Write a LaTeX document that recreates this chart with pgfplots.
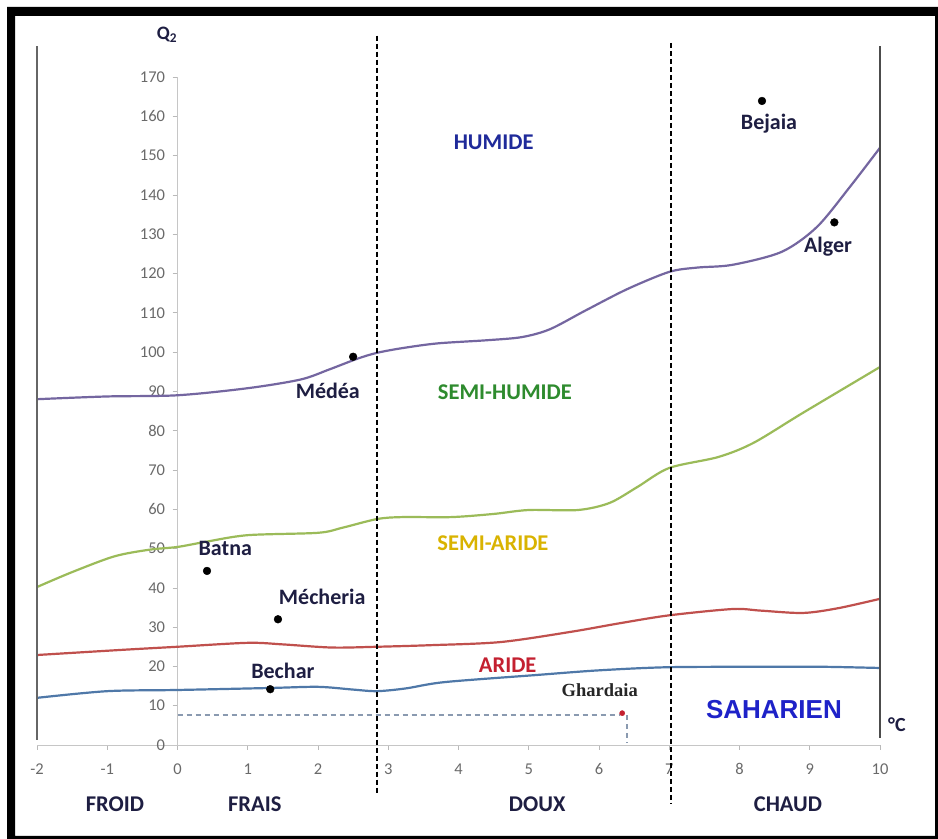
\documentclass[border=0pt]{standalone}
\usepackage{pgfplots}
\pgfplotsset{compat=1.18}
\usepackage{fontspec}
\setmainfont{Carlito}
\newfontfamily\arialf{Liberation Sans}
\newfontfamily\timesf{Liberation Serif}
\definecolor{navyt}{HTML}{1E1E42}
\definecolor{tickgray}{HTML}{6A6A6A}
\definecolor{purplec}{HTML}{7466A0}
\definecolor{greenc}{HTML}{9BBB59}
\definecolor{redc}{HTML}{C0504D}
\definecolor{bluec}{HTML}{4F78A8}
\definecolor{humide}{HTML}{1F2A9A}
\definecolor{shumide}{HTML}{2E8B2E}
\definecolor{saride}{HTML}{D9B300}
\definecolor{aride}{HTML}{C42030}
\definecolor{saharien}{HTML}{1E22C8}
\definecolor{dashc}{HTML}{8A9AB0}
\begin{document}
\begin{tikzpicture}[x=1bp,y=1bp]
\useasboundingbox (0,0) rectangle (938,839);
\fill[white] (0,0) rectangle (938,839);
\fill[black, even odd rule] (7,0) rectangle (938,832) (15,3) rectangle (935,823);
\begin{axis}[
  at={(37bp,94bp)}, anchor=south west,
  scale only axis, width=843bp, height=668bp,
  xmin=-2, xmax=10, ymin=0, ymax=170,
  axis lines=middle,
  axis line style={-, color=gray!45, line width=0.8bp},
  xtick={-2,-1,...,10}, ytick={0,10,...,170},
  hide obscured x ticks=false, hide obscured y ticks=false,
  tick style={color=gray!55, line width=0.6bp},
  major tick length=5bp, tick align=outside,
  /pgf/number format/assume math mode=true,
  ticklabel style={font=\fontsize{16.5bp}{18bp}\selectfont, text=tickgray},
  xticklabel style={anchor=north, yshift=-10bp},
  yticklabel style={anchor=east, xshift=-4bp},
  clip=false,
]
% boundary curves
\addplot[smooth, color=purplec, line width=2.2bp] coordinates {
(-2,88) (-1,88.7) (0,89) (1,90.8) (1.75,93) (2.15,95.5) (2.56,98.3) (2.84,99.8)
(3.2,101) (3.7,102.2) (4.4,103) (4.9,103.8) (5.3,105.8) (5.8,110.5) (6.4,116)
(7.0,120.4) (7.4,121.5) (7.9,122.2) (8.6,125.5) (9.1,131.8) (9.57,142) (10,152)};
\addplot[smooth, color=greenc, line width=2.2bp] coordinates {
(-2,40.2) (-1.5,44) (-0.9,48) (-0.4,49.7) (0,50.4) (0.4,51.7) (1.0,53.4)
(2.0,54) (2.35,55.3) (2.84,57.5) (3.2,58) (3.9,58) (4.5,58.8) (5.0,59.8)
(5.7,59.8) (6.15,61.6) (6.55,65.7) (7.0,70.5) (7.7,73.3) (8.2,76.9) (8.9,84.5) (10,96.2)};
\addplot[smooth, color=redc, line width=2.2bp] coordinates {
(-2,22.9) (-0.8,24.2) (0,25) (1.0,26) (1.5,25.6) (2.2,24.8) (2.84,25)
(3.6,25.4) (4.6,26.2) (5.6,28.8) (6.3,31) (7.0,33) (7.9,34.6) (8.3,34.2)
(8.9,33.6) (9.4,34.8) (10,37.2)};
\addplot[smooth, color=bluec, line width=2.2bp] coordinates {
(-2,12) (-1,13.7) (0,14) (1.3,14.5) (2.0,14.8) (2.5,14.1) (2.84,13.7) (3.25,14.4)
(3.8,16) (5.1,17.8) (6.0,19) (7.0,19.8) (8.4,19.9) (9.2,19.9) (10,19.6)};
% frame lines
\addplot[color=gray!80!black, line width=2.8bp] coordinates {(-2,1.3) (-2,178)};
\addplot[color=gray!60!black, line width=2.2bp] coordinates {(10,1.8) (10,178)};
\addplot[black, dash pattern=on 5bp off 3bp, line width=1.8bp] coordinates {(2.84,180.5) (2.84,-12.7)};
\addplot[black, dash pattern=on 5bp off 3bp, line width=1.8bp] coordinates {(7.03,178.7) (7.03,-14.8)};
% Ghardaia guide lines
\addplot[dashc, dash pattern=on 5bp off 4bp, line width=1.4bp] coordinates {(0,7.6) (6.3,7.6)};
\addplot[dashc, dash pattern=on 5bp off 4bp, line width=1.4bp] coordinates {(6.4,7.6) (6.4,0.5)};
% stations
\addplot[only marks, mark=*, mark size=3.9bp, black] coordinates {
(8.32,163.9) (9.35,133) (2.5,98.8) (0.42,44.3) (1.43,32) (1.32,14.2)};
\addplot[only marks, mark=*, mark size=2.6bp, color=aride] coordinates {(6.33,8.1)};
% station labels
\begin{scope}[every node/.style={font=\bfseries\fontsize{22bp}{24bp}\selectfont, text=navyt, inner sep=0pt}]
\node at (axis cs:8.42,158) {Bejaia};
\node at (axis cs:9.26,126.7) {Alger};
\node at (axis cs:2.14,90.1) {Médéa};
\node at (axis cs:0.68,50.1) {Batna};
\node at (axis cs:2.06,37.7) {Mécheria};
\node at (axis cs:1.5,18.8) {Bechar};
\end{scope}
\node[font=\timesf\bfseries\fontsize{18.5bp}{20bp}\selectfont, text=black!85, inner sep=0pt] at (axis cs:6.01,14.0) {Ghardaia};
% zone labels
\begin{scope}[every node/.style={font=\bfseries\fontsize{22.5bp}{24bp}\selectfont, inner sep=0pt}]
\node[text=humide] at (axis cs:4.5,153.5) {HUMIDE};
\node[text=shumide] at (axis cs:4.66,89.8) {SEMI-HUMIDE};
\node[text=saride] at (axis cs:4.49,51.4) {SEMI-ARIDE};
\node[text=aride] at (axis cs:4.7,20.4) {ARIDE};
\node[text=navyt] at (axis cs:-0.89,-15) {FROID};
\node[text=navyt] at (axis cs:1.1,-15) {FRAIS};
\node[text=navyt] at (axis cs:5.12,-15) {DOUX};
\node[text=navyt] at (axis cs:8.69,-15) {CHAUD};
\end{scope}
\node[font=\arialf\bfseries\fontsize{26bp}{28bp}\selectfont, text=saharien, inner sep=0pt] at (axis cs:8.49,8.9) {SAHARIEN};
\node[font=\bfseries\fontsize{19bp}{20bp}\selectfont, text=navyt, inner sep=0pt] at (axis cs:-0.15,180.7) {Q\textsubscript{2}};
\node[font=\bfseries\fontsize{20bp}{21bp}\selectfont, text=navyt, inner sep=0pt] at (axis cs:10.24,5.1) {°C};
\end{axis}
\end{tikzpicture}
\end{document}
